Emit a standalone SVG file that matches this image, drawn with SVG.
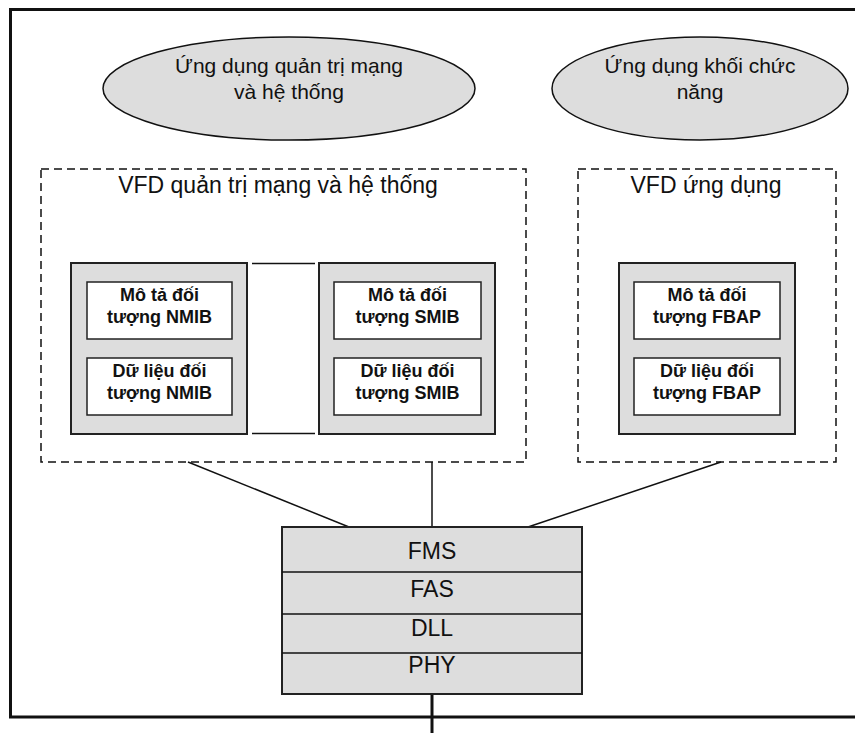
<svg xmlns="http://www.w3.org/2000/svg" width="855" height="733" viewBox="0 0 855 733">
<style>
  .t { font-family: "Liberation Sans", Arial, sans-serif; fill: #111; text-anchor: middle; }
  .ell { fill: #dddddd; stroke: #111; stroke-width: 1.5; }
  .dash { fill: none; stroke: #111; stroke-width: 1.5; stroke-dasharray: 8 5; }
  .gbox { fill: #dddddd; stroke: #222; stroke-width: 2; }
  .wbox { fill: #ffffff; stroke: #222; stroke-width: 1.5; }
  .b { font-weight: bold; font-size: 18px; }
  .ln { stroke: #111; stroke-width: 1.5; fill: none; }
  .frame { stroke: #111; stroke-width: 3; fill: none; }
</style>
<rect width="855" height="733" fill="#ffffff"/>
<g id="frame">
  <polyline class="frame" points="855,9.5 10.5,9.5 10.5,717 855,717"/>
</g>
<g id="connectors">
  <line class="ln" x1="252" y1="263.5" x2="315" y2="263.5"/>
  <line class="ln" x1="252" y1="433.5" x2="315" y2="433.5"/>
  <line class="ln" x1="188" y1="462" x2="349" y2="527"/>
  <line class="ln" x1="432" y1="462" x2="432" y2="527"/>
  <line class="ln" x1="721" y1="462" x2="528" y2="527"/>
  <line x1="432" y1="694" x2="432" y2="733" stroke="#111" stroke-width="3"/>
</g>
<g id="app-network">
  <ellipse class="ell" cx="289" cy="88.5" rx="186" ry="51.5"/>
  <text class="t" x="289" y="73" font-size="21">Ứng dụng quản trị mạng</text>
  <text class="t" x="289" y="99" font-size="21">và hệ thống</text>
</g>
<g id="app-function">
  <ellipse class="ell" cx="700" cy="88.5" rx="148" ry="51.5"/>
  <text class="t" x="700" y="73" font-size="21">Ứng dụng khối chức</text>
  <text class="t" x="700" y="99" font-size="21">năng</text>
</g>
<g id="vfd-network">
  <rect class="dash" x="41" y="169" width="485" height="293"/>
  <text class="t" x="278" y="193" font-size="23">VFD quản trị mạng và hệ thống</text>
</g>
<g id="vfd-app">
  <rect class="dash" x="578" y="169" width="258" height="293"/>
  <text class="t" x="706" y="193" font-size="23">VFD ứng dụng</text>
</g>
<g id="nmib">
  <rect class="gbox" x="71" y="263" width="176" height="171"/>
  <rect class="wbox" x="87" y="282" width="145" height="57"/>
  <text class="t b" x="159.5" y="301">Mô tả đối</text>
  <text class="t b" x="159.5" y="323">tượng NMIB</text>
  <rect class="wbox" x="87" y="358" width="145" height="57"/>
  <text class="t b" x="159.5" y="377">Dữ liệu đối</text>
  <text class="t b" x="159.5" y="399">tượng NMIB</text>
</g>
<g id="smib">
  <rect class="gbox" x="319" y="263" width="176" height="171"/>
  <rect class="wbox" x="334" y="282" width="147" height="57"/>
  <text class="t b" x="407.5" y="301">Mô tả đối</text>
  <text class="t b" x="407.5" y="323">tượng SMIB</text>
  <rect class="wbox" x="334" y="358" width="147" height="57"/>
  <text class="t b" x="407.5" y="377">Dữ liệu đối</text>
  <text class="t b" x="407.5" y="399">tượng SMIB</text>
</g>
<g id="fbap">
  <rect class="gbox" x="619" y="263" width="176" height="171"/>
  <rect class="wbox" x="634" y="282" width="146" height="57"/>
  <text class="t b" x="707" y="301">Mô tả đối</text>
  <text class="t b" x="707" y="323">tượng FBAP</text>
  <rect class="wbox" x="634" y="358" width="146" height="57"/>
  <text class="t b" x="707" y="377">Dữ liệu đối</text>
  <text class="t b" x="707" y="399">tượng FBAP</text>
</g>
<g id="stack">
  <rect class="gbox" x="282" y="527" width="300" height="167"/>
  <line class="ln" x1="282" y1="572" x2="582" y2="572"/>
  <line class="ln" x1="282" y1="614" x2="582" y2="614"/>
  <line class="ln" x1="282" y1="653" x2="582" y2="653"/>
  <text class="t" x="432" y="559" font-size="23">FMS</text>
  <text class="t" x="432" y="597" font-size="23">FAS</text>
  <text class="t" x="432" y="636" font-size="23">DLL</text>
  <text class="t" x="432" y="673" font-size="23">PHY</text>
</g>
</svg>
